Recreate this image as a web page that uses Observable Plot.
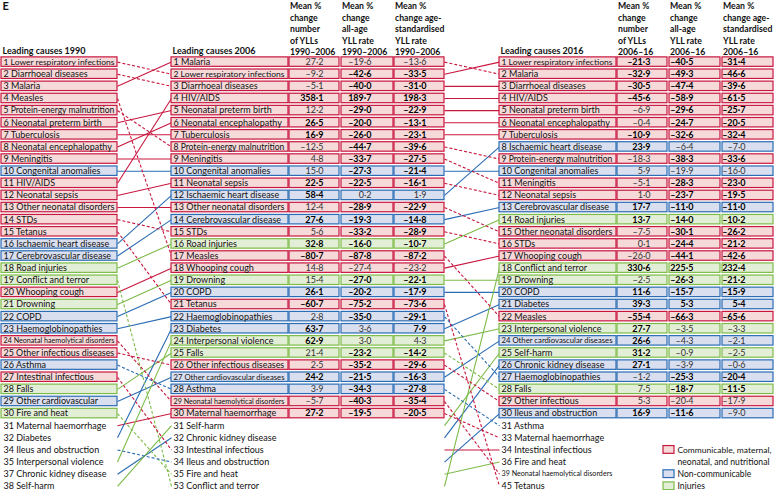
<!DOCTYPE html>
<html><head><meta charset="utf-8">
<script src="https://cdn.jsdelivr.net/npm/d3@7"></script>
<script src="https://cdn.jsdelivr.net/npm/@observablehq/plot@0.6"></script>
<style>
body{margin:0;background:#fff;}
#chart svg{display:block;font-family:Lato,"Liberation Sans",sans-serif;}
</style></head><body><div id="chart"></div>
<script>
// ---------- DATA ----------
const causeIds = ["LRI","Diar","Mal","Meas","PEM","Pre","TB","Enc","Men","Cong","HIV","Sep","ONeo","STD","Tet","IHD","Cer","Road","Conf","Whoop","Drown","COPD","Haem","Hemo","OInf","Asth","Int","Falls","OCV","Fire","Mat","Diab","Ileus","IPV","CKD","Self"];
const causeGroups = ["C","C","C","C","C","C","C","C","C","N","C","C","C","C","C","N","N","I","I","C","I","N","N","C","C","N","C","I","N","I","C","N","N","I","N","I"];

const ids1990 = ["LRI","Diar","Mal","Meas","PEM","Pre","TB","Enc","Men","Cong","HIV","Sep","ONeo","STD","Tet","IHD","Cer","Road","Conf","Whoop","Drown","COPD","Haem","Hemo","OInf","Asth","Int","Falls","OCV","Fire","Mat","Diab","Ileus","IPV","CKD","Self"];
const labels1990 = ["Lower respiratory infections","Diarrhoeal diseases","Malaria","Measles","Protein-energy malnutrition","Neonatal preterm birth","Tuberculosis","Neonatal encephalopathy","Meningitis","Congenital anomalies","HIV/AIDS","Neonatal sepsis","Other neonatal disorders","STDs","Tetanus","Ischaemic heart disease","Cerebrovascular disease","Road injuries","Conflict and terror","Whooping cough","Drowning","COPD","Haemoglobinopathies","Neonatal haemolytical disorders","Other infectious diseases","Asthma","Intestinal infectious","Falls","Other cardiovascular","Fire and heat","Maternal haemorrhage","Diabetes","Ileus and obstruction","Interpersonal violence","Chronic kidney disease","Self-harm"];
const ranks1990 = [1,2,3,4,5,6,7,8,9,10,11,12,13,14,15,16,17,18,19,20,21,22,23,24,25,26,27,28,29,30,31,32,34,35,37,38];

const ids2006 = ["Mal","LRI","Diar","HIV","Pre","Enc","TB","PEM","Men","Cong","Sep","IHD","ONeo","Cer","STD","Road","Meas","Whoop","Drown","COPD","Tet","Haem","Diab","IPV","Falls","OInf","OCV","Asth","Hemo","Mat","Self","CKD","Int","Ileus","Fire","Conf"];
const labels2006 = ["Malaria","Lower respiratory infections","Diarrhoeal diseases","HIV/AIDS","Neonatal preterm birth","Neonatal encephalopathy","Tuberculosis","Protein-energy malnutrition","Meningitis","Congenital anomalies","Neonatal sepsis","Ischaemic heart disease","Other neonatal disorders","Cerebrovascular disease","STDs","Road injuries","Measles","Whooping cough","Drowning","COPD","Tetanus","Haemoglobinopathies","Diabetes","Interpersonal violence","Falls","Other infectious diseases","Other cardiovascular diseases","Asthma","Neonatal haemolytical disorders","Maternal haemorrhage","Self-harm","Chronic kidney disease","Intestinal infectious","Ileus and obstruction","Fire and heat","Conflict and terror"];
const ranks2006 = [1,2,3,4,5,6,7,8,9,10,11,12,13,14,15,16,17,18,19,20,21,22,23,24,25,26,27,28,29,30,31,32,33,34,35,53];

const ids2016 = ["LRI","Mal","Diar","HIV","Pre","Enc","TB","IHD","PEM","Cong","Men","Sep","Cer","Road","ONeo","STD","Whoop","Conf","Drown","COPD","Diab","Meas","IPV","OCV","Self","CKD","Haem","Falls","OInf","Ileus","Asth","Mat","Int","Fire","Hemo","Tet"];
const labels2016 = ["Lower respiratory infections","Malaria","Diarrhoeal diseases","HIV/AIDS","Neonatal preterm birth","Neonatal encephalopathy","Tuberculosis","Ischaemic heart disease","Protein-energy malnutrition","Congenital anomalies","Meningitis","Neonatal sepsis","Cerebrovascular disease","Road injuries","Other neonatal disorders","STDs","Whooping cough","Conflict and terror","Drowning","COPD","Diabetes","Measles","Interpersonal violence","Other cardiovascular diseases","Self-harm","Chronic kidney disease","Haemoglobinopathies","Falls","Other infectious","Ileus and obstruction","Asthma","Maternal haemorrhage","Intestinal infectious","Fire and heat","Neonatal haemolytical disorders","Tetanus"];
const ranks2016 = [1,2,3,4,5,6,7,8,9,10,11,12,13,14,15,16,17,18,19,20,21,22,23,24,25,26,27,28,29,30,31,33,34,36,39,45];

// Mean % change 1990–2006 (rows follow 2006 ranking 1–30)
const yll2006    = [27.2,-9.2,-5.1,358.1,12.2,26.5,16.9,-12.5,4.8,15.0,22.5,58.4,12.4,27.6,5.6,32.8,-80.7,14.8,15.4,26.1,-60.7,2.8,63.7,62.9,21.4,2.5,24.2,3.9,-5.7,27.2];
const allAge2006 = [-19.6,-42.6,-40.0,189.7,-29.0,-20.0,-26.0,-44.7,-33.7,-27.3,-22.5,0.2,-28.9,-19.3,-33.2,-16.0,-87.8,-27.4,-27.0,-20.2,-75.2,-35.0,3.6,3.0,-23.2,-35.2,-21.5,-34.3,-40.3,-19.5];
const ageStd2006 = [-13.6,-33.5,-31.0,198.3,-22.9,-13.1,-23.1,-39.6,-27.5,-21.4,-16.1,1.9,-22.9,-14.8,-28.9,-10.7,-87.2,-23.2,-22.1,-17.9,-73.6,-29.1,7.9,4.3,-14.2,-29.6,-16.3,-27.8,-35.4,-20.5];
const sigYll2006    = [0,0,0,1,0,1,1,0,0,0,1,1,0,1,0,1,1,0,0,1,1,0,1,1,0,0,1,0,0,1];
const sigAllAge2006 = [0,1,1,1,1,1,1,1,1,1,1,0,1,1,1,1,1,0,1,1,1,1,0,0,1,1,1,1,1,1];
const sigAgeStd2006 = [0,1,1,1,1,1,1,1,1,1,1,0,1,1,1,1,1,0,1,1,1,1,1,0,1,1,1,1,1,1];

// Mean % change 2006–16 (rows follow 2016 ranking 1–30)
const yll2016    = [-21.3,-32.9,-30.5,-45.6,-6.9,-0.4,-10.9,23.9,-18.3,5.9,-5.1,1.0,17.7,13.7,-7.5,0.1,-26.0,330.6,-2.5,11.6,39.3,-55.4,27.7,26.6,31.2,27.1,-1.2,7.5,5.3,16.9];
const allAge2016 = [-40.5,-49.3,-47.4,-58.9,-29.6,-24.7,-32.6,-6.4,-38.3,-19.9,-28.3,-23.7,-11.0,-14.0,-30.1,-24.4,-44.1,225.5,-26.3,-15.7,5.3,-66.3,-3.5,-4.3,-0.9,-3.9,-25.3,-18.7,-20.4,-11.6];
const ageStd2016 = [-31.4,-46.6,-39.6,-61.5,-25.7,-20.5,-32.4,-7.0,-33.6,-16.0,-23.0,-19.5,-11.0,-10.2,-26.2,-21.2,-42.6,232.4,-21.2,-15.9,5.4,-65.6,-3.3,-2.1,-2.5,-0.6,-20.4,-11.5,-17.9,-9.0];
const sigYll2016    = [1,1,1,1,0,0,1,1,0,0,0,0,1,1,0,0,0,1,0,1,1,1,1,1,1,1,0,0,0,1];
const sigAllAge2016 = [1,1,1,1,1,1,1,0,1,0,1,1,1,1,1,1,1,1,1,1,1,1,0,0,0,0,1,1,0,1];
const sigAgeStd2016 = [1,1,1,1,1,1,1,0,1,0,1,1,1,1,1,1,1,1,1,1,1,1,0,0,0,0,1,1,0,0];

const headers2006 = ["Mean %\nchange\nnumber\nof YLLs\n1990–2006","Mean %\nchange\nall-age\nYLL rate\n1990–2006","Mean %\nchange age-\nstandardised\nYLL rate\n1990–2006"];
const headers2016 = ["Mean %\nchange\nnumber\nof YLLs\n2006–16","Mean %\nchange\nall-age\nYLL rate\n2006–16","Mean %\nchange age-\nstandardised\nYLL rate\n2006–16"];
const listTitles = ["Leading causes 1990","Leading causes 2006","Leading causes 2016"];
const panelLetter = "E";

const groupKeys = ["C","N","I"];
const groupStroke = ["#c8173f","#2b6cb4","#7dbb48"];
const groupFill = ["#f6d9d9","#dadfef","#e3eed6"];
const legendLabels = ["Communicable, maternal,\nneonatal, and nutritional","Non-communicable","Injuries"];

// ---------- LAYOUT ----------
const X = {
  n1990:[1,117], n2006:[171,288], n2016:[499,616],
  v2006:[[289,339],[341,393],[394,444]],
  v2016:[[617,667],[669,720],[722,773]]
};
const valAnchor2006 = [323,371,426], valAnchor2016 = [650,693,745];
const legendX = [663,674,677], legendSlots = [33,35,36];
const FS = 9;

const gi = id => groupKeys.indexOf(causeGroups[causeIds.indexOf(id)]);
const strokeOf = id => groupStroke[gi(id)];
const fillOf = id => groupFill[gi(id)];
const fmt = v => (v < 0 ? "–" : "") + Math.abs(v).toFixed(1).replace(".", "·");

function rows(ids, labels, ranks, box){
  return ids.map((id,i)=>({id, slot:i+1, label: ranks[i] + " " + labels[i], boxed: i < 30, x1: box[0], x2: box[1]}));
}
const r1990 = rows(ids1990, labels1990, ranks1990, X.n1990);
const r2006 = rows(ids2006, labels2006, ranks2006, X.n2006);
const r2016 = rows(ids2016, labels2016, ranks2016, X.n2016);
const allRows = [...r1990, ...r2006, ...r2016];

function cells(ids, cols, sigs, boxes, anchors){
  const out = [];
  cols.forEach((vals,j)=>vals.forEach((v,i)=>out.push({id: ids[i], slot: i+1, text: fmt(v), bold: sigs[j][i]===1, x1: boxes[j][0], x2: boxes[j][1], xa: anchors[j]})));
  return out;
}
const valueCells = [
  ...cells(ids2006, [yll2006, allAge2006, ageStd2006], [sigYll2006, sigAllAge2006, sigAgeStd2006], X.v2006, valAnchor2006),
  ...cells(ids2016, [yll2016, allAge2016, ageStd2016], [sigYll2016, sigAllAge2016, sigAgeStd2016], X.v2016, valAnchor2016)
];

function links(idsA, idsB, xa, xb){
  return idsA.map((id,i)=>({id, s1: i+1, s2: idsB.indexOf(id)+1, xa, xb}));
}
const allLinks = [...links(ids1990, ids2006, X.n1990[1], X.n2006[0]), ...links(ids2006, ids2016, X.v2006[2][1], X.n2016[0])];

const headerData = [
  ...headers2006.map((t,j)=>({t, x: X.v2006[j][0] + 0.5})),
  ...headers2016.map((t,j)=>({t, x: X.v2016[j][0] + 0.5}))
];
const titleData = listTitles.map((t,j)=>({t, x: [2, 172, 500][j]}));
const legendData = groupKeys.map((k,j)=>({k, slot: legendSlots[j], fill: groupFill[j], stroke: groupStroke[j]}));
const legendText = legendLabels.flatMap((l,j)=>l.split("\n").map((t,m)=>({t, slot: legendSlots[j]+m})));

const H = 0.39;
const plot = Plot.plot({
  width: 774, height: 490,
  marginTop: 0, marginBottom: 0, marginLeft: 0, marginRight: 0,
  x: {domain:[0,774], range:[0,774], axis: null},
  y: {domain:[1,36], range:[61.6,485.8], axis: null},
  color: {type: "identity"},
  style: {fontFamily: 'Lato, "Liberation Sans", sans-serif', background: "#fff"},
  marks: [
    Plot.link(allLinks.filter(d=>d.s2 <= d.s1), {x1:"xa", y1:"s1", x2:"xb", y2:"s2", stroke: d=>strokeOf(d.id), strokeWidth: 1.1}),
    Plot.link(allLinks.filter(d=>d.s2 > d.s1), {x1:"xa", y1:"s1", x2:"xb", y2:"s2", stroke: d=>strokeOf(d.id), strokeWidth: 1.1, strokeDasharray: "3,2"}),
    Plot.rect(allRows.filter(d=>d.boxed), {x1:"x1", x2:"x2", y1: d=>d.slot-H, y2: d=>d.slot+H, fill: d=>fillOf(d.id), stroke: d=>strokeOf(d.id), strokeWidth: 1.2}),
    Plot.rect(valueCells, {x1:"x1", x2:"x2", y1: d=>d.slot-H, y2: d=>d.slot+H, fill: d=>fillOf(d.id), stroke: d=>strokeOf(d.id), strokeWidth: 1.2}),
    Plot.text(allRows, {x: d=>d.x1 + 2, y: "slot", text: "label", textAnchor: "start", fontSize: FS, fill: "#111"}),
    Plot.text(valueCells.filter(d=>d.bold), {x: "xa", y: "slot", text: "text", textAnchor: "end", fontSize: FS, fontWeight: "bold", fill: "#000"}),
    Plot.text(valueCells.filter(d=>!d.bold), {x: "xa", y: "slot", text: "text", textAnchor: "end", fontSize: FS, fill: "#333"}),
    Plot.text(headerData, {x: "x", text: "t", frameAnchor: "top", lineAnchor: "top", textAnchor: "start", dy: 0.5, fontSize: 8.7, fontWeight: "bold", lineHeight: 1.32, fill: "#111"}),
    Plot.text(titleData, {x: "x", text: "t", frameAnchor: "top", lineAnchor: "top", textAnchor: "start", dy: 47, fontSize: 9, fontWeight: "bold", fill: "#111"}),
    Plot.text([panelLetter], {x: 2, text: d=>d, frameAnchor: "top", lineAnchor: "top", textAnchor: "start", dy: 2, fontSize: 11, fontWeight: "bold", fill: "#111"}),
    Plot.rect(legendData, {x1: legendX[0], x2: legendX[1], y1: d=>d.slot-0.32, y2: d=>d.slot+0.32, fill: "fill", stroke: "stroke", strokeWidth: 1.2}),
    Plot.text(legendText, {x: legendX[2], y: "slot", text: "t", textAnchor: "start", fontSize: 8.6, fill: "#111"})
  ]
});
document.getElementById("chart").append(plot);
// shrink over-long texts so they fit their space, as the original does
const nameSet = new Set(allRows.map(d=>d.label));
const legendSet = new Set(legendText.map(d=>d.t));
plot.querySelectorAll("text").forEach(t=>{
  const s = t.textContent;
  const maxW = nameSet.has(s) ? 111 : legendSet.has(s) ? 94 : Infinity;
  const w = t.getComputedTextLength();
  if (w > maxW) {
    const fs = parseFloat(getComputedStyle(t).fontSize);
    t.setAttribute("font-size", (fs * maxW / w).toFixed(2));
    t.style.fontSize = (fs * maxW / w).toFixed(2) + "px";
  }
});
</script></body></html>
